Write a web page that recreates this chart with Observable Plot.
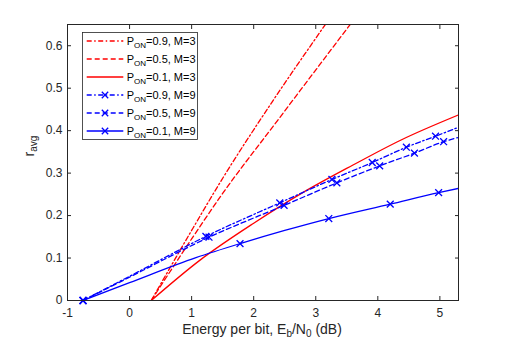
<!DOCTYPE html>
<html><head><meta charset="utf-8">
<script src="https://cdn.jsdelivr.net/npm/d3@7"></script>
<script src="https://cdn.jsdelivr.net/npm/@observablehq/plot@0.6"></script>
<style>body{margin:0;background:#fff;}</style>
</head><body><div id="chart"></div>
<script>
// ---- data ----
const xTicks = [-1, 0, 1, 2, 3, 4, 5];
const yTicks = [0, 0.1, 0.2, 0.3, 0.4, 0.5, 0.6];

// M=3 curves (red)
const m3p09X = [0.35, 1.0, 1.48, 2.285, 3.16];
const m3p09Y = [0, 0.165, 0.283, 0.465, 0.651];
const m3p05X = [0.35, 1.0, 1.48, 2.39, 3.56];
const m3p05Y = [0, 0.145, 0.248, 0.425, 0.651];
const m3p01X = [0.35, 1.13, 2.0, 2.79, 3.6, 4.375, 5.3];
const m3p01Y = [0, 0.0945, 0.182, 0.254, 0.319, 0.378, 0.437];

// M=9 curves (blue)
const m9p09X = [-0.75, 0, 1.23, 2.42, 3.26, 3.91, 4.46, 4.93, 5.3];
const m9p09Y = [0, 0.057, 0.151, 0.230, 0.285, 0.325, 0.361, 0.387, 0.408];
const m9p05X = [-0.75, 0, 1.28, 2.49, 3.34, 4.03, 4.59, 5.06, 5.3];
const m9p05Y = [0, 0.055, 0.149, 0.224, 0.277, 0.317, 0.347, 0.374, 0.384];
const m9p01X = [-0.75, 0, 1.07, 1.78, 2.5, 3.21, 4.2, 4.98, 5.3];
const m9p01Y = [0, 0.042, 0.101, 0.134, 0.165, 0.193, 0.227, 0.254, 0.264];

// M=9 marker positions
const mk9p09X = [-0.75, 1.23, 2.42, 3.26, 3.91, 4.46, 4.93];
const mk9p09Y = [0, 0.151, 0.230, 0.285, 0.325, 0.361, 0.387];
const mk9p05X = [-0.75, 1.28, 2.49, 3.34, 4.03, 4.59, 5.06];
const mk9p05Y = [0, 0.149, 0.224, 0.277, 0.317, 0.347, 0.374];
const mk9p01X = [-0.75, 1.78, 3.21, 4.2, 4.98];
const mk9p01Y = [0, 0.134, 0.193, 0.227, 0.254];

const legendP = ["0.9", "0.5", "0.1", "0.9", "0.5", "0.1"];
const legendM = ["3", "3", "3", "9", "9", "9"];

// ---- styles ----
const RED = "#ff0000", BLUE = "#0000ff", AX = "#262626";
const DASHDOT = "5,2.5,1.5,2.5", DASH = "5,3";
const FONT = "'Liberation Sans', Arial, Helvetica, sans-serif";

const rows = (xs, ys) => xs.map((x, i) => ({x, y: ys[i]}));
const lineOpts = (stroke, dash) => ({x: "x", y: "y", stroke, strokeWidth: 1.3, strokeDasharray: dash, curve: "monotone-x", clip: true});
const dotOpts = {x: "x", y: "y", symbol: "times", r: 3.2, stroke: BLUE, strokeWidth: 1.3};
const noText = () => "";

const chart = Plot.plot({
  width: 505, height: 338,
  marginLeft: 67, marginRight: 47, marginTop: 24, marginBottom: 38,
  x: {domain: [-1, 5.3]},
  y: {domain: [0, 0.65]},
  style: {fontFamily: FONT, fontSize: "12px", color: AX, background: "white"},
  marks: [
    Plot.line(rows(m3p09X, m3p09Y), lineOpts(RED, DASHDOT)),
    Plot.line(rows(m3p05X, m3p05Y), lineOpts(RED, DASH)),
    Plot.line(rows(m3p01X, m3p01Y), lineOpts(RED, null)),
    Plot.line(rows(m9p09X, m9p09Y), lineOpts(BLUE, DASHDOT)),
    Plot.line(rows(m9p05X, m9p05Y), lineOpts(BLUE, DASH)),
    Plot.line(rows(m9p01X, m9p01Y), lineOpts(BLUE, null)),
    Plot.dot(rows(mk9p09X, mk9p09Y), dotOpts),
    Plot.dot(rows(mk9p05X, mk9p05Y), dotOpts),
    Plot.dot(rows(mk9p01X, mk9p01Y), dotOpts),
    Plot.frame({stroke: AX, strokeWidth: 1}),
    // inward tick marks on all four sides
    Plot.axisX(xTicks, {anchor: "bottom", tickSize: 4, dy: -4, tickFormat: noText, label: null, stroke: AX}),
    Plot.axisX(xTicks, {anchor: "top", tickSize: 4, dy: 4, tickFormat: noText, label: null, stroke: AX}),
    Plot.axisY(yTicks, {anchor: "left", tickSize: 4, dx: 4, tickFormat: noText, label: null, stroke: AX}),
    Plot.axisY(yTicks, {anchor: "right", tickSize: 4, dx: -4, tickFormat: noText, label: null, stroke: AX}),
    // tick labels
    Plot.axisX(xTicks, {anchor: "bottom", tickSize: 0, tickPadding: 8, tickFormat: d => String(d), label: null}),
    Plot.axisY(yTicks, {anchor: "left", tickSize: 0, tickPadding: 5, tickFormat: d => String(d), label: null})
  ]
});
document.getElementById("chart").appendChild(chart);

// ---- axis titles with subscripts ----
const svg = d3.select(chart);
const xl = svg.append("text").attr("x", 262).attr("y", 334).attr("text-anchor", "middle")
  .attr("font-family", FONT).attr("font-size", 14).attr("fill", AX);
xl.append("tspan").text("Energy per bit, E");
xl.append("tspan").attr("font-size", 10).attr("dy", 3).text("b");
xl.append("tspan").attr("dy", -3).text("/N");
xl.append("tspan").attr("font-size", 10).attr("dy", 3).text("0");
xl.append("tspan").attr("dy", -3).text(" (dB)");

const yl = svg.append("text").attr("transform", "translate(33.5,146) rotate(-90)").attr("text-anchor", "middle")
  .attr("font-family", FONT).attr("font-size", 14).attr("fill", AX);
yl.append("tspan").text("r");
yl.append("tspan").attr("font-size", 10).attr("dy", 3).text("avg");

// ---- legend ----
const lg = svg.append("g").attr("font-family", FONT).attr("text-anchor", "start");
lg.append("rect").attr("x", 82.5).attr("y", 32.5).attr("width", 115).attr("height", 107)
  .attr("fill", "white").attr("stroke", AX).attr("stroke-width", 0.8);
const styles = [[RED, DASHDOT, false], [RED, DASH, false], [RED, null, false], [BLUE, DASHDOT, true], [BLUE, DASH, true], [BLUE, null, true]];
legendP.forEach((p, i) => {
  const y = 41 + 18 * i;
  const [c, dash, mk] = styles[i];
  lg.append("line").attr("x1", 86.7).attr("x2", 123.3).attr("y1", y).attr("y2", y)
    .attr("stroke", c).attr("stroke-width", 1.3).attr("stroke-dasharray", dash);
  if (mk) {
    const s = 3.2;
    lg.append("path").attr("d", `M${105 - s},${y - s}L${105 + s},${y + s}M${105 - s},${y + s}L${105 + s},${y - s}`)
      .attr("stroke", BLUE).attr("stroke-width", 1.3).attr("fill", "none");
  }
  const t = lg.append("text").attr("x", 126.7).attr("y", y + 3.6).attr("font-size", 11)
    .attr("fill", "#000").attr("text-anchor", "start");
  t.append("tspan").text("P");
  t.append("tspan").attr("font-size", 8).attr("dy", 3).text("ON");
  t.append("tspan").attr("dy", -3).text(`=${p}, M=${legendM[i]}`);
});
</script>
</body></html>
